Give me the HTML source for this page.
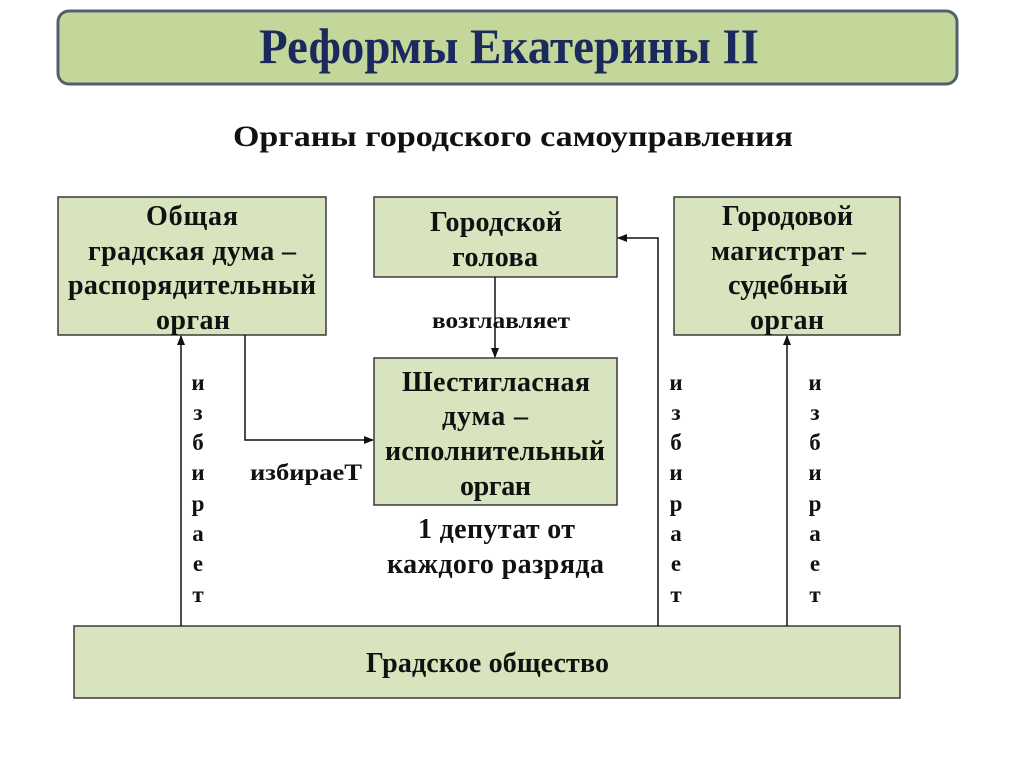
<!DOCTYPE html>
<html><head><meta charset="utf-8"><style>
html,body{margin:0;padding:0;background:#fff;}
svg{display:block;}
text{font-family:"Liberation Serif",serif;font-weight:bold;fill:#111;}
</style></head><body>
<svg width="1024" height="767" viewBox="0 0 1024 767" xmlns="http://www.w3.org/2000/svg">
<defs><marker id="a" markerWidth="10" markerHeight="10" refX="9" refY="5" orient="auto" markerUnits="userSpaceOnUse"><path d="M0,1 L10,5 L0,9 z" fill="#111"/></marker></defs>
<rect x="58" y="11" width="899" height="73" rx="11" fill="#c4d79b" stroke="#4f6070" stroke-width="3"/>
<text x="259" y="63" font-size="50" style="fill:#1a2a5c" textLength="500" lengthAdjust="spacingAndGlyphs">Реформы Екатерины II</text>
<text x="233" y="146" font-size="30" textLength="560" lengthAdjust="spacingAndGlyphs">Органы городского самоуправления</text>
<g fill="#d7e4bd" stroke="#3a3a3a" stroke-width="1.5">
<rect x="58" y="197" width="268" height="138"/>
<rect x="374" y="197" width="243" height="80"/>
<rect x="674" y="197" width="226" height="138"/>
<rect x="374" y="358" width="243" height="147"/>
<rect x="74" y="626" width="826" height="72"/>
</g>
<g font-size="28" lengthAdjust="spacingAndGlyphs">
<text x="146" y="225" textLength="92">Общая</text>
<text x="88" y="260" textLength="208">градская дума –</text>
<text x="68" y="294" textLength="248">распорядительный</text>
<text x="156" y="329" textLength="74">орган</text>
<text x="430" y="231" textLength="132">Городской</text>
<text x="452" y="266" textLength="86">голова</text>
<text x="722" y="225" textLength="131">Городовой</text>
<text x="711" y="260" textLength="155">магистрат –</text>
<text x="728" y="294" textLength="120">судебный</text>
<text x="750" y="329" textLength="74">орган</text>
<text x="402" y="391" textLength="188">Шестигласная</text>
<text x="442" y="425" textLength="86">дума –</text>
<text x="385" y="460" textLength="220">исполнительный</text>
<text x="460" y="495" textLength="71">орган</text>
<text x="418" y="538" textLength="157">1 депутат от</text>
<text x="387" y="573" textLength="217">каждого разряда</text>
<text x="366" y="672" textLength="243">Градское общество</text>
</g>
<text x="432" y="328" font-size="23" textLength="138" lengthAdjust="spacingAndGlyphs">возглавляет</text>
<text x="250" y="480" font-size="23" textLength="112" lengthAdjust="spacingAndGlyphs">избираеТ</text>
<g stroke="#111" stroke-width="1.5" fill="none">
<line x1="181" y1="626" x2="181" y2="336" marker-end="url(#a)"/>
<polyline points="245,335 245,440 373,440" marker-end="url(#a)"/>
<line x1="495" y1="277" x2="495" y2="357" marker-end="url(#a)"/>
<polyline points="658,626 658,238 618,238" marker-end="url(#a)"/>
<line x1="787" y1="626" x2="787" y2="336" marker-end="url(#a)"/>
</g>
<g font-size="23" text-anchor="middle">
<text x="198" y="390">и</text><text x="198" y="420">з</text><text x="198" y="450">б</text><text x="198" y="480">и</text><text x="198" y="511">р</text><text x="198" y="541">а</text><text x="198" y="571">е</text><text x="198" y="602">т</text>
<text x="676" y="390">и</text><text x="676" y="420">з</text><text x="676" y="450">б</text><text x="676" y="480">и</text><text x="676" y="511">р</text><text x="676" y="541">а</text><text x="676" y="571">е</text><text x="676" y="602">т</text>
<text x="815" y="390">и</text><text x="815" y="420">з</text><text x="815" y="450">б</text><text x="815" y="480">и</text><text x="815" y="511">р</text><text x="815" y="541">а</text><text x="815" y="571">е</text><text x="815" y="602">т</text>
</g>
</svg>
</body></html>
